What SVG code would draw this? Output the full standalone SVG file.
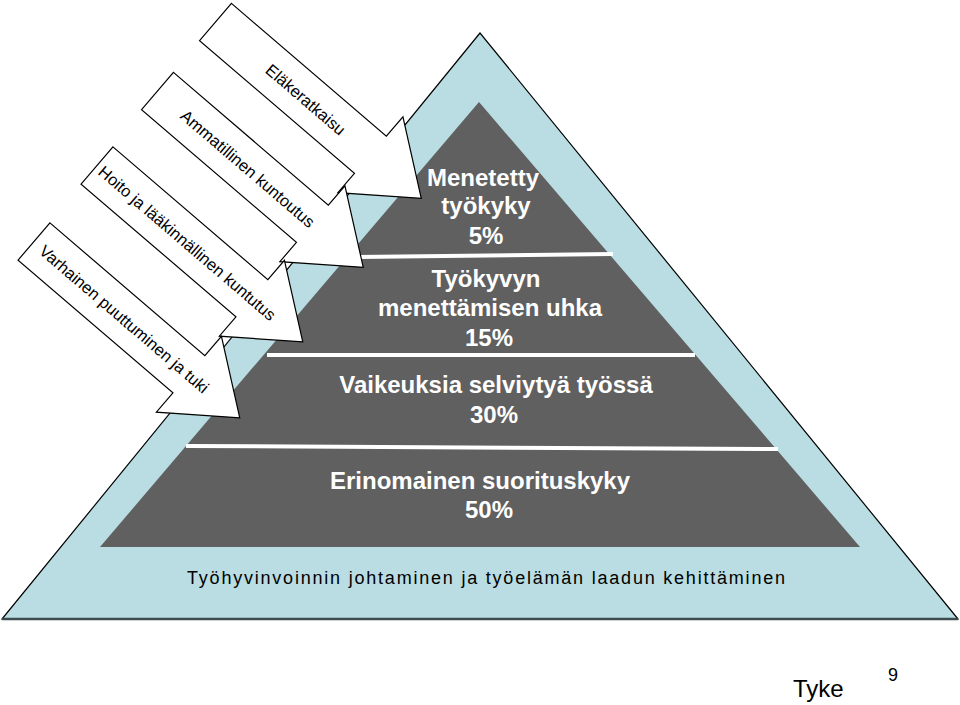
<svg xmlns="http://www.w3.org/2000/svg" width="960" height="705" viewBox="0 0 960 705">
<style>
.tier{font-family:"Liberation Sans",Arial,sans-serif;font-size:24px;font-weight:bold;fill:#ffffff;text-anchor:middle}
.arr{fill:#ffffff;stroke:#000000;stroke-width:1.2;stroke-linejoin:miter}
.arrt{font-family:"Liberation Sans",Arial,sans-serif;font-size:16.5px;fill:#000000;text-anchor:middle}
.sep{stroke:#ffffff;stroke-width:4}
</style>
<defs>
<polygon id="blockArrow" points="0,-24.5 204,-24.5 204,-50 271,0 204,50 204,24.5 0,24.5"/>
</defs>
<rect width="960" height="705" fill="#ffffff"/>
<g id="outer-triangle">
<polygon points="480,33 2,619 958,619" fill="#b9dde2" stroke="#000000" stroke-width="1.2"/>
<line x1="2" y1="619" x2="958" y2="619" stroke="#3d4d4f" stroke-width="2.5"/>
</g>
<g id="pyramid">
<polygon points="479,102 100,547 860,547" fill="#606060"/>
<line class="sep" x1="356" y1="257" x2="613" y2="254"/>
<line class="sep" x1="267" y1="355" x2="695" y2="355"/>
<line class="sep" x1="186" y1="446" x2="778" y2="449"/>
</g>
<g id="tier-1">
<text class="tier" x="483" y="186">Menetetty</text>
<text class="tier" x="486" y="214">työkyky</text>
<text class="tier" x="486" y="244">5%</text>
</g>
<g id="tier-2">
<text class="tier" x="486" y="287">Työkyvyn</text>
<text class="tier" x="490" y="316">menettämisen uhka</text>
<text class="tier" x="489" y="346">15%</text>
</g>
<g id="tier-3">
<text class="tier" x="496" y="393">Vaikeuksia selviytyä työssä</text>
<text class="tier" x="494" y="423">30%</text>
</g>
<g id="tier-4">
<text class="tier" x="480" y="489">Erinomainen suorituskyky</text>
<text class="tier" x="489" y="518">50%</text>
</g>
<g id="base-label">
<text x="486" y="584" font-family="'Liberation Sans',Arial,sans-serif" font-size="18" fill="#000000" text-anchor="middle" textLength="598" lengthAdjust="spacing">Työhyvinvoinnin johtaminen ja työelämän laadun kehittäminen</text>
</g>
<g id="arrow-elakeratkaisu" transform="translate(215.5,22) rotate(40.6)">
<use href="#blockArrow" class="arr"/>
<text class="arrt" x="119" y="6">Eläkeratkaisu</text>
</g>
<g id="arrow-ammatillinen" transform="translate(157.5,91) rotate(40.6)">
<use href="#blockArrow" class="arr"/>
<text class="arrt" x="119" y="6">Ammatillinen kuntoutus</text>
</g>
<g id="arrow-hoito" transform="translate(97,165.5) rotate(40.6)">
<use href="#blockArrow" class="arr"/>
<text class="arrt" x="119" y="6">Hoito ja lääkinnällinen kuntutus</text>
</g>
<g id="arrow-varhainen" transform="translate(34,241.5) rotate(40.6)">
<use href="#blockArrow" class="arr"/>
<text class="arrt" x="119" y="6">Varhainen puuttuminen ja tuki</text>
</g>
<g id="connectors"/>
<g id="footer">
<text x="793" y="697" font-family="'Liberation Sans',Arial,sans-serif" font-size="24" fill="#000000">Tyke</text>
<text x="893" y="681" font-family="'Liberation Sans',Arial,sans-serif" font-size="18" fill="#000000" text-anchor="middle">9</text>
</g>
</svg>
